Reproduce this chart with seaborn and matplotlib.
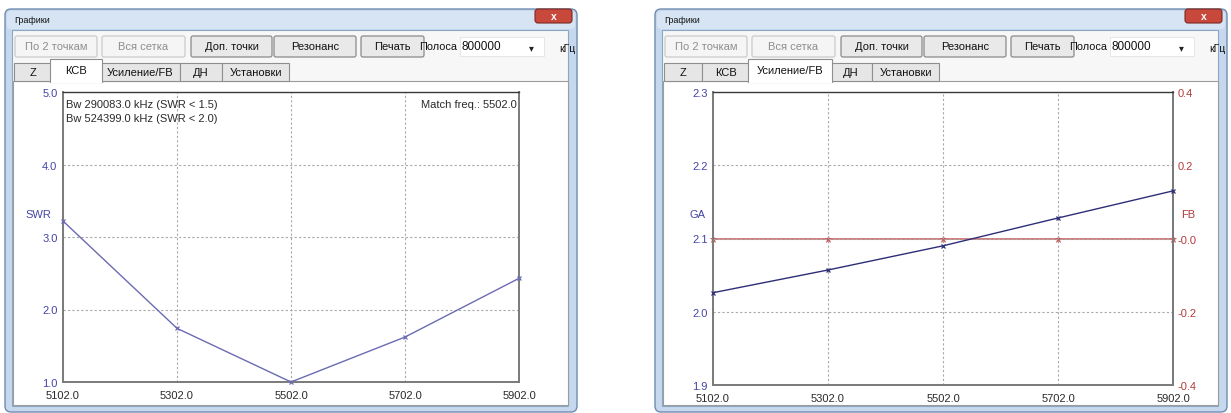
import numpy as np
import pandas as pd
import matplotlib
matplotlib.use("Agg")
import matplotlib.pyplot as plt
import seaborn as sns
from matplotlib.patches import Rectangle, FancyBboxPatch
from matplotlib.ticker import FixedLocator, FixedFormatter

# ---------------- data ----------------
freq = [5102.0, 5302.0, 5502.0, 5702.0, 5902.0]
swr = [3.22, 1.74, 1.00, 1.62, 2.43]
ga = [2.026, 2.057, 2.090, 2.128, 2.165]
fb = [0.0, 0.0, 0.0, 0.0, 0.0]

freq_ticks = [5102.0, 5302.0, 5502.0, 5702.0, 5902.0]
freq_labels = ["5102.0", "5302.0", "5502.0", "5702.0", "5902.0"]
swr_ticks = [1.0, 2.0, 3.0, 4.0, 5.0]
swr_labels = ["1.0", "2.0", "3.0", "4.0", "5.0"]
ga_ticks = [1.9, 2.0, 2.1, 2.2, 2.3]
ga_labels = ["1.9", "2.0", "2.1", "2.2", "2.3"]
fb_ticks = [-0.4, -0.2, 0.0, 0.2, 0.4]
fb_labels = ["-0.4", "-0.2", "-0.0", "0.2", "0.4"]

window_title = "Графики"
buttons = ["По 2 точкам", "Вся сетка", "Доп. точки", "Резонанс", "Печать"]
buttons_enabled = [False, False, True, True, True]
band_label = "Полоса"
band_value = "800000"
band_unit = "кГц"
tabs = ["Z", "КСВ", "Усиление/FB", "ДН", "Установки"]
bw_lines = ["Bw 290083.0 kHz (SWR < 1.5)", "Bw 524399.0 kHz (SWR < 2.0)"]
match_text = "Match freq.: 5502.0"

# ---------------- style ----------------
sns.set_style("white")
plt.rcParams["font.family"] = ["Liberation Sans", "DejaVu Sans"]

W, H = 1231, 414
fig = plt.figure(figsize=(W / 100, H / 100), dpi=100)
fig.patch.set_facecolor("white")

bg = fig.add_axes([0, 0, 1, 1])
bg.set_xlim(0, W)
bg.set_ylim(H, 0)
bg.axis("off")

BLUE_TXT = "#4444a4"
RED_TXT = "#b23b3b"
DARK_TXT = "#2a2a2a"

btn_x = [(15, 97), (102, 185), (191, 272), (274, 356), (361, 424)]
tab_x = [(14, 52), (52, 100), (100, 180), (180, 222), (222, 289)]


def rbox(x0, y0, x1, y1, r=2, **kw):
    p = FancyBboxPatch((x0, y0), x1 - x0, y1 - y0,
                       boxstyle=f"round,pad=0,rounding_size={r}", **kw)
    bg.add_patch(p)
    return p


def draw_window(ox, active):
    # outer frame
    rbox(ox + 5, 10, ox + 577, 413, r=6, facecolor="#c5d8ee",
         edgecolor="#6f8cb0", lw=1.0)
    # lighter glass band in the title bar
    rbox(ox + 7, 12, ox + 575, 30, r=4, facecolor="#d6e4f3",
         edgecolor="none")
    bg.text(ox + 14, 20.5, window_title, fontsize=6.5, color="#111111",
            va="center", ha="left")
    # close button
    rbox(ox + 535, 10, ox + 572, 24, r=3, facecolor="#c9483c",
         edgecolor="#7a2a22", lw=0.8)
    bg.text(ox + 553.5, 16.5, "x", fontsize=7.5, color="white",
            ha="center", va="center", fontweight="bold")
    # client area
    bg.add_patch(Rectangle((ox + 12, 31), 556, 376, facecolor="#f7f7f7",
                           edgecolor="#8ea6c4", lw=0.8))
    # buttons
    for (x0, x1), lab, en in zip(btn_x, buttons, buttons_enabled):
        rbox(ox + x0, 37, ox + x1, 58, r=2,
             facecolor="#e9e9e9" if en else "#f5f5f5",
             edgecolor="#8a8a8a" if en else "#cbcbcb", lw=0.9)
        bg.text(ox + (x0 + x1) / 2, 47.5, lab, fontsize=8,
                color="#111111" if en else "#8e8e8e",
                ha="center", va="center")
    bg.text(ox + 457, 47.5, band_label, fontsize=7.8, color="#111111",
            ha="right", va="center")
    bg.add_patch(Rectangle((ox + 460, 38), 84, 19, facecolor="white",
                           edgecolor="#e2e2e2", lw=0.6))
    bg.text(ox + 462, 47.5, band_value, fontsize=8.5, color="#111111",
            ha="left", va="center")
    bg.text(ox + 531, 48.5, "▾", fontsize=7, color="#222222",
            ha="center", va="center", family="DejaVu Sans")
    bg.text(ox + 559, 48.5, band_unit, fontsize=7.5, color="#111111",
            ha="left", va="center")
    # tab panel
    bg.add_patch(Rectangle((ox + 13, 82), 555, 324, facecolor="white",
                           edgecolor="#9c9c9c", lw=0.8))
    for i, ((x0, x1), lab) in enumerate(zip(tab_x, tabs)):
        if i == active:
            continue
        bg.add_patch(Rectangle((ox + x0, 64), x1 - x0, 18,
                               facecolor="#e6e6e6", edgecolor="#8e8e8e",
                               lw=0.8))
        bg.text(ox + (x0 + x1) / 2, 73.5, lab, fontsize=8, color="#111111",
                ha="center", va="center")
    x0, x1 = tab_x[active]
    bg.add_patch(Rectangle((ox + x0 - 2, 60), x1 - x0 + 4, 23,
                           facecolor="white", edgecolor="#8e8e8e", lw=0.8))
    bg.add_patch(Rectangle((ox + x0 - 1.5, 81), x1 - x0 + 3, 3,
                           facecolor="white", edgecolor="none"))
    bg.text(ox + (x0 + x1) / 2, 71, tabs[active], fontsize=8,
            color="#111111", ha="center", va="center")


draw_window(0, 1)
draw_window(650, 2)


def style_axes(ax):
    ax.set_facecolor("white")
    for s in ax.spines.values():
        s.set_visible(True)
        s.set_color("#7a7a7a")
        s.set_linewidth(1.4)
    ax.spines["top"].set_color("#3a3a3a")
    ax.spines["top"].set_linewidth(1.0)
    ax.tick_params(length=0, labelsize=8, pad=4)
    ax.grid(True, color="#a8a8a8", linestyle=(0, (2, 2)), linewidth=0.8)
    ax.set_xlabel("")
    ax.set_ylabel("")


def ax_rect(x0, y0, x1, y1):
    return [x0 / W, 1 - y1 / H, (x1 - x0) / W, (y1 - y0) / H]


SWR_C = "#6b6bb4"
GA_C = "#2e2e78"
FB_C = "#c85a5a"

# ---------------- left chart: SWR ----------------
ax1 = fig.add_axes(ax_rect(63, 93, 519, 383))
df1 = pd.DataFrame({"freq": freq, "swr": swr})
sns.lineplot(data=df1, x="freq", y="swr", ax=ax1, color=SWR_C,
             linewidth=1.0, marker="x", markersize=3.5, markeredgewidth=0.9,
             markeredgecolor=SWR_C, clip_on=False, zorder=4)
ax1.set_xlim(freq_ticks[0], freq_ticks[-1])
ax1.set_ylim(swr_ticks[0], swr_ticks[-1])
ax1.xaxis.set_major_locator(FixedLocator(freq_ticks))
ax1.xaxis.set_major_formatter(FixedFormatter(freq_labels))
ax1.yaxis.set_major_locator(FixedLocator(swr_ticks))
ax1.yaxis.set_major_formatter(FixedFormatter(swr_labels))
style_axes(ax1)
ax1.tick_params(axis="y", labelcolor=BLUE_TXT)
ax1.tick_params(axis="x", labelcolor=DARK_TXT, pad=6)
ax1.text(0.007, 0.96, bw_lines[0], transform=ax1.transAxes, fontsize=8,
         color=DARK_TXT, ha="left", va="center")
ax1.text(0.007, 0.912, bw_lines[1], transform=ax1.transAxes, fontsize=8,
         color=DARK_TXT, ha="left", va="center")
ax1.text(0.995, 0.96, match_text, transform=ax1.transAxes, fontsize=8,
         color=DARK_TXT, ha="right", va="center")
bg.text(38, 215, "SWR", fontsize=8, color=BLUE_TXT, ha="center",
        va="center")

# ---------------- right chart: GA / FB ----------------
ax2 = fig.add_axes(ax_rect(713, 93, 1173, 386))
df2 = pd.DataFrame({"freq": freq, "ga": ga, "fb": fb})
sns.lineplot(data=df2, x="freq", y="ga", ax=ax2, color=GA_C,
             linewidth=1.0, marker="x", markersize=3.5, markeredgewidth=0.9,
             markeredgecolor=GA_C, clip_on=False, zorder=4)
ax2.set_xlim(freq_ticks[0], freq_ticks[-1])
ax2.set_ylim(ga_ticks[0], ga_ticks[-1])
ax2.xaxis.set_major_locator(FixedLocator(freq_ticks))
ax2.xaxis.set_major_formatter(FixedFormatter(freq_labels))
ax2.yaxis.set_major_locator(FixedLocator(ga_ticks))
ax2.yaxis.set_major_formatter(FixedFormatter(ga_labels))
style_axes(ax2)
ax2.tick_params(axis="y", labelcolor=BLUE_TXT)
ax2.tick_params(axis="x", labelcolor=DARK_TXT, pad=6)

ax3 = ax2.twinx()
sns.lineplot(data=df2, x="freq", y="fb", ax=ax3, color=FB_C,
             linewidth=1.1, marker="*", markersize=4.5, markeredgewidth=0.5,
             markeredgecolor=FB_C, markerfacecolor=FB_C, clip_on=False,
             zorder=3)
ax3.set_ylim(fb_ticks[0], fb_ticks[-1])
ax3.yaxis.set_major_locator(FixedLocator(fb_ticks))
ax3.yaxis.set_major_formatter(FixedFormatter(fb_labels))
ax3.tick_params(length=0, labelsize=8, pad=3, labelcolor=RED_TXT)
ax3.set_ylabel("")
for s in ax3.spines.values():
    s.set_visible(False)
ax3.spines["right"].set_visible(True)
ax3.spines["right"].set_color("#7a7a7a")
ax3.spines["right"].set_linewidth(1.4)
ax3.grid(False)
ax2.set_zorder(ax3.get_zorder() + 1)
ax2.patch.set_visible(False)
ax3.patch.set_facecolor("white")

bg.text(698, 215, "GA", fontsize=8, color=BLUE_TXT, ha="center",
        va="center")
bg.text(1188, 215, "FB", fontsize=8, color=RED_TXT, ha="center",
        va="center")

fig.savefig("out.png", dpi=100, facecolor="white")
